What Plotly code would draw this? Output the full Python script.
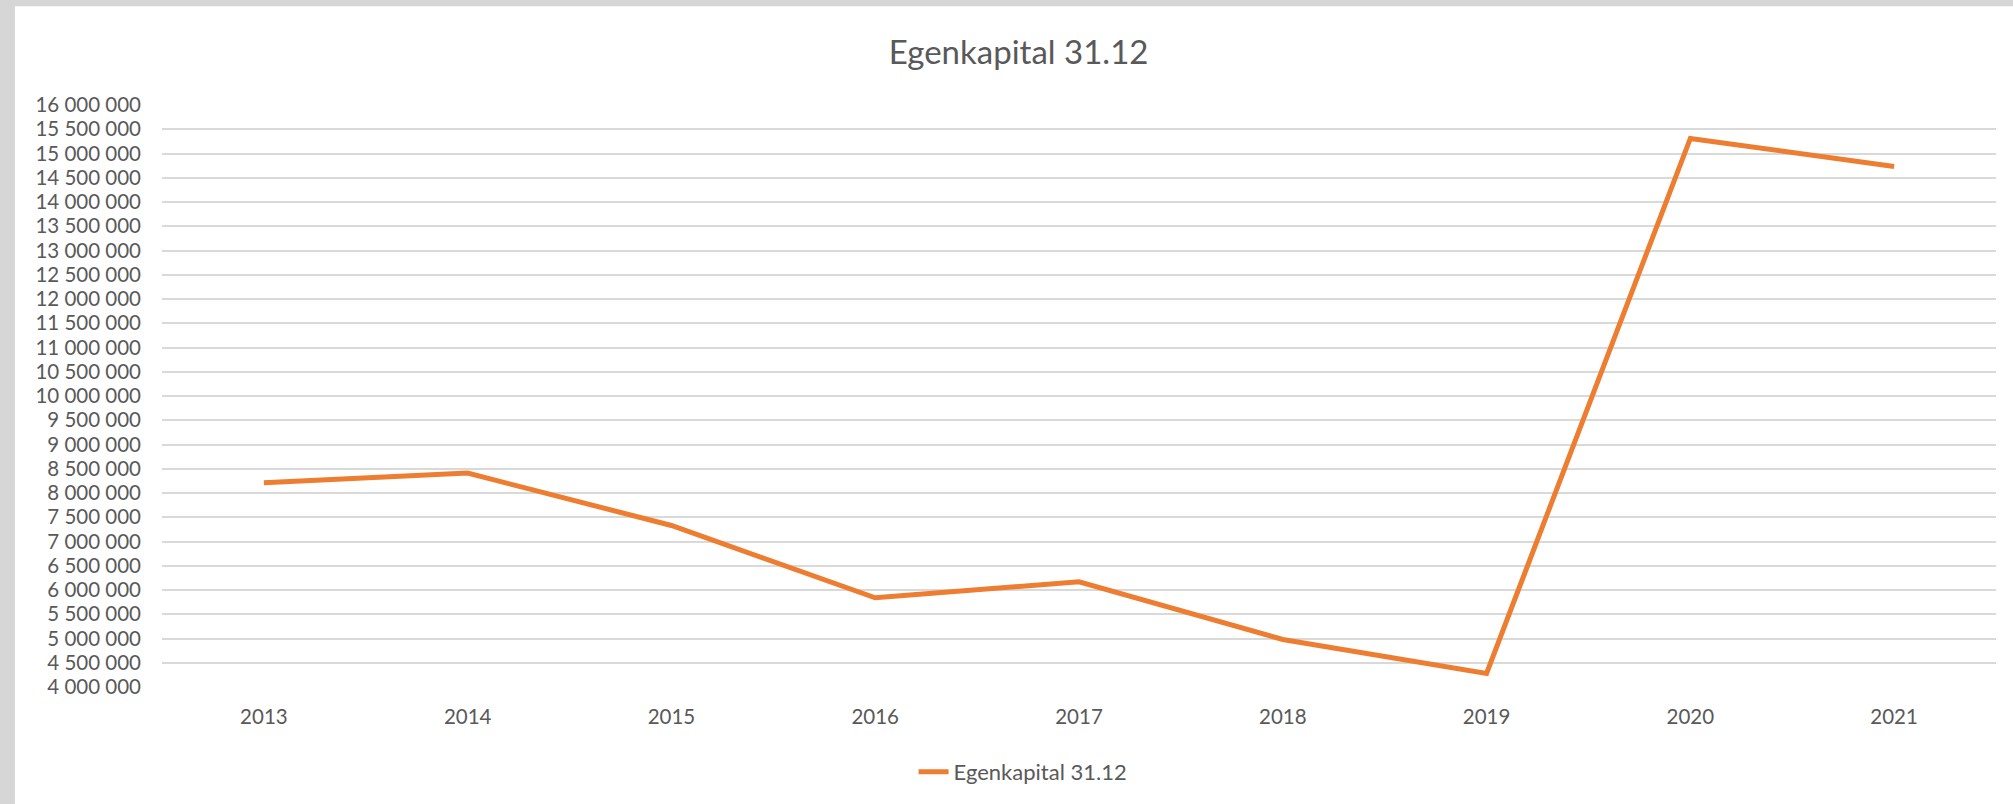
import plotly.graph_objects as go

years = ['2013', '2014', '2015', '2016', '2017', '2018', '2019', '2020', '2021']
egenkapital = [8210000, 8410000, 7330000, 5840000, 6170000, 4980000, 4280000, 15310000, 14730000]
series_name = 'Egenkapital 31.12'

FONT = 'Lato, Carlito, Calibri, sans-serif'
TEXT = '#595959'

fig = go.Figure()
fig.add_trace(go.Scatter(
    x=years, y=egenkapital,
    mode='lines',
    name=series_name,
    line=dict(color='#ED7D31', width=5),
))

# white chart panel sitting on the grey textured backdrop
fig.add_shape(type='rect', xref='paper', yref='paper',
              x0=-0.0802, x1=1.02, y0=-0.25, y1=1.1698,
              fillcolor='white', line=dict(width=0), layer='below')

fig.update_layout(
    width=2013, height=804,
    margin=dict(l=162, r=17, t=105, b=116),
    paper_bgcolor='#d6d6d6',
    plot_bgcolor='white',
    separators=', ',
    font=dict(family=FONT, color=TEXT, size=20.5),
    title=dict(text='Egenkapital 31.12', x=0.506, xanchor='center',
               y=1 - 52 / 804, yanchor='middle',
               font=dict(size=33, color=TEXT, family=FONT)),
    showlegend=True,
    legend=dict(orientation='h', x=0.4695, xanchor='center', y=-0.144, yanchor='middle',
                font=dict(size=22, color=TEXT), bgcolor='rgba(0,0,0,0)'),
)
fig.update_xaxes(type='category', range=[-0.5, 8.5], showgrid=False, showline=False,
                 zeroline=False, ticks='', ticklabelstandoff=15,
                 tickfont=dict(size=20.5, color=TEXT))
fig.update_yaxes(range=[4000000, 16000000], dtick=500000, tick0=4000000,
                 tickformat=',d', gridcolor='#d9d9d9', gridwidth=2,
                 showline=False, zeroline=False, ticks='', ticklabelstandoff=20,
                 tickfont=dict(size=20.5, color=TEXT))

fig.write_html('out.html', config={'displayModeBar': False},
               post_script="document.body.style.margin='0';document.body.style.overflow='hidden';")
